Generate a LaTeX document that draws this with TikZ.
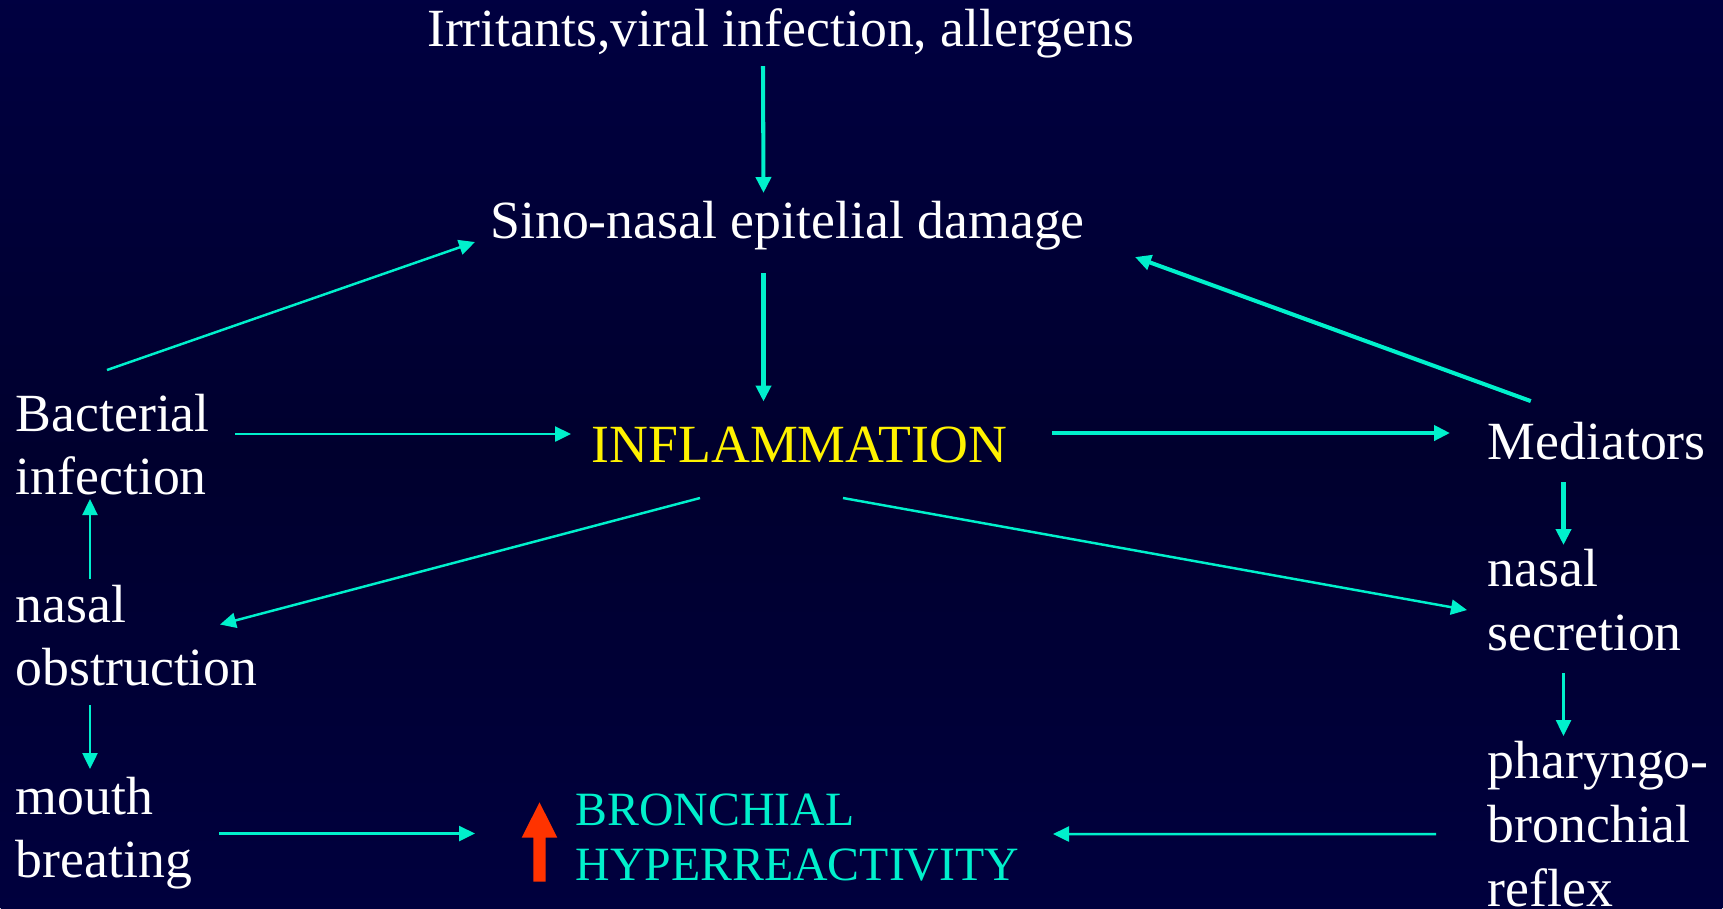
\documentclass[tikz,border=0pt]{standalone}
\usepackage{fontspec}
\setmainfont{Liberation Serif}
\usepackage{xcolor}
\usetikzlibrary{arrows.meta}
\definecolor{aqua}{RGB}{0,240,204}
\definecolor{hot}{RGB}{255,51,0}
\definecolor{bgtop}{RGB}{0,0,100}
\definecolor{bgdark}{RGB}{0,0,46}
\definecolor{bgbot}{RGB}{0,0,92}
\begin{document}
\begin{tikzpicture}[
lbl/.style={inner sep=0,text=white,align=left,font=\fontsize{15.3}{18.1}\selectfont},
arr/.style={aqua,line width=.7pt,-{Triangle[length=1.6mm,width=1.5mm]}},
arrthick/.style={arr,line width=1.15pt}]
\useasboundingbox (0,0) rectangle (17.23,-9.08);
\begin{scope}
\clip (0,0) rectangle (17.23,-9.08);
\shade[top color=bgtop,bottom color=bgbot,middle color=bgdark,rotate around={45:(8.615,-4.54)}] (-.685,-13.84) rectangle (17.915,4.76);
\end{scope}
\node[lbl,anchor=base](irr) at (7.805,-.467){Irritants,viral infection, allergens};
\node[lbl,anchor=base](sino) at (7.875,-2.38){Sino-nasal epitelial damage};
\node[lbl,anchor=base,text=yellow](infl) at (7.995,-4.627){INFLAMMATION};
\node[lbl,anchor=base west](bact) at (.15,-4.946){Bacterial\\infection};
\node[lbl,anchor=base west](obst) at (.15,-6.856){nasal\\obstruction};
\node[lbl,anchor=base west](mouth) at (.15,-8.776){mouth\\breating};
\node[lbl,anchor=base west](med) at (14.87,-4.59){Mediators};
\node[lbl,anchor=base west](secr) at (14.87,-6.5){nasal\\secretion};
\node[lbl,anchor=base west](phar) at (14.87,-9.062){pharyngo-\\bronchial\\reflex};
\node[lbl,anchor=base west,text=aqua,font=\fontsize{13.6}{15.6}\selectfont](bronch) at (5.75,-8.807){BRONCHIAL\\HYPERREACTIVITY};
\fill[hot] (5.333,-8.817) -- (5.333,-8.377) -- (5.217,-8.377) -- (5.395,-8.023) -- (5.573,-8.377) -- (5.457,-8.377) -- (5.457,-8.817) -- cycle;
\draw[arrthick]([shift={(-.175,-.193)}]irr.base)--([shift={(-.24,.45)}]sino.base);
\draw[arrthick]([shift={(-.24,-.35)}]sino.base)--([shift={(-.36,.612)}]infl.base);
\draw[arr]([shift={(.92,1.246)}]bact.base west)--([shift={(-3.125,-.04)}]sino.base);
\draw[arr]([shift={(2.2,.606)}]bact.base west)--([shift={(-2.285,.287)}]infl.base);
\draw[arrthick]([shift={(2.525,.297)}]infl.base)--([shift={(-.37,.26)}]med.base west);
\draw[arrthick]([shift={(.438,.579)}]med.base west)--([shift={(3.475,-.19)}]sino.base);
\draw[arrthick]([shift={(.765,-.23)}]med.base west)--([shift={(.765,1.05)}]secr.base west);
\draw[arr]([shift={(.435,-.353)}]infl.base)--([shift={(-.2,.4)}]secr.base west);
\draw[arr]([shift={(.765,-.23)}]secr.base west)--([shift={(.765,1.702)}]phar.base west);
\draw[arr]([shift={(-.51,.722)}]phar.base west)--([shift={(4.78,.467)}]bronch.base west);
\draw[arr]([shift={(-.995,-.353)}]infl.base)--([shift={(2.05,.611)}]obst.base west);
\draw[arr]([shift={(.75,1.071)}]obst.base west)--([shift={(.75,-.044)}]bact.base west);
\draw[arr]([shift={(.75,-.194)}]obst.base west)--([shift={(.75,1.086)}]mouth.base west);
\draw[arr]([shift={(2.04,.441)}]mouth.base west)--([shift={(-1,.472)}]bronch.base west);
\end{tikzpicture}
\end{document}
